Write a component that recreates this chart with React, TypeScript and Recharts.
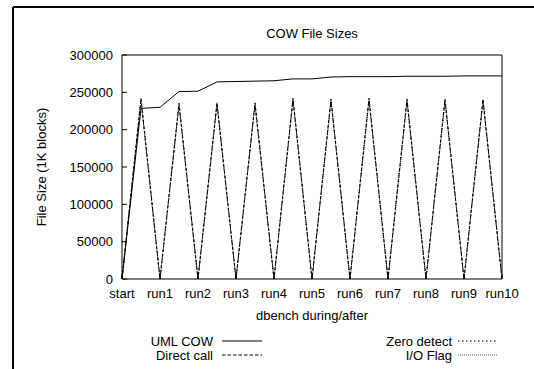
import React from 'react';
import { LineChart, Line, XAxis, YAxis } from 'recharts';

const xTickLabels = ['start', 'run1', 'run2', 'run3', 'run4', 'run5', 'run6', 'run7', 'run8', 'run9', 'run10'];
// measurement points: even = after run (tick), odd = during the run
const steps = [0, 1, 2, 3, 4, 5, 6, 7, 8, 9, 10, 11, 12, 13, 14, 15, 16, 17, 18, 19, 20];
const umlCow = [0, 228500, 230000, 251000, 251500, 264000, 264500, 265000, 265500, 268000, 268000, 270500, 271000, 271000, 271000, 271500, 271500, 271500, 272000, 272000, 272000];
const directCall = [0, 242000, 0, 235500, 0, 236500, 0, 236000, 0, 242000, 0, 241000, 0, 242000, 0, 241000, 0, 241000, 0, 241000, 0];
const zeroDetect = [0, 240000, 0, 233500, 0, 234500, 0, 234000, 0, 240000, 0, 239000, 0, 240000, 0, 239000, 0, 239000, 0, 239000, 0];
const ioFlag = [0, 238000, 0, 232000, 0, 233000, 0, 232500, 0, 238500, 0, 237500, 0, 238500, 0, 237500, 0, 237500, 0, 237500, 0];
const yTicks = [0, 50000, 100000, 150000, 200000, 250000, 300000];

const seriesNames = ['UML COW', 'Direct call', 'Zero detect', 'I/O Flag'];

const data = steps.map((s, i) => ({
  step: s,
  uml: umlCow[i],
  direct: directCall[i],
  zero: zeroDetect[i],
  io: ioFlag[i],
}));

const xTicks = xTickLabels.map((_, i) => i * 2);

const FONT = '"Liberation Sans", Arial, Helvetica, sans-serif';

const series = [
  { key: 'io', name: seriesNames[3], dash: '1 1', color: '#555' },
  { key: 'zero', name: seriesNames[2], dash: '1.5 2.5', color: '#000' },
  { key: 'direct', name: seriesNames[1], dash: '3.5 2', color: '#000' },
  { key: 'uml', name: seriesNames[0], dash: undefined as string | undefined, color: '#000' },
];

const legendItems = [
  { name: seriesNames[0], dash: undefined as string | undefined, color: '#000', textX: 213, lineX: 222, y: 341 },
  { name: seriesNames[1], dash: '3.5 2', color: '#000', textX: 213, lineX: 222, y: 355 },
  { name: seriesNames[2], dash: '1.5 2.5', color: '#000', textX: 452, lineX: 458, y: 341 },
  { name: seriesNames[3], dash: '1 1', color: '#555', textX: 452, lineX: 458, y: 355 },
];

export default function App() {
  return (
    <div style={{ position: 'absolute', left: 0, top: 0, width: 534, height: 369, background: '#fff', fontFamily: FONT }}>
      <LineChart width={534} height={369} data={data} margin={{ top: 55, right: 32, bottom: 0, left: 0 }}>
        <XAxis
          xAxisId="bottom"
          dataKey="step"
          type="number"
          domain={[0, 20]}
          ticks={xTicks}
          interval={0}
          tickFormatter={(v: number) => xTickLabels[Math.round(v / 2)]}
          height={90}
          tickSize={-5}
          tickMargin={15}
          axisLine={{ stroke: '#000', strokeWidth: 1 }}
          tickLine={{ stroke: '#000' }}
          tick={{ fill: '#000', fontSize: 13, fontFamily: FONT }}
        />
        <XAxis
          xAxisId="top"
          dataKey="step"
          type="number"
          orientation="top"
          mirror
          domain={[0, 20]}
          ticks={xTicks}
          interval={0}
          tickSize={5}
          axisLine={{ stroke: '#000', strokeWidth: 1 }}
          tickLine={{ stroke: '#000' }}
          tick={false}
        />
        <YAxis
          yAxisId="left"
          type="number"
          domain={[0, 300000]}
          ticks={yTicks}
          interval={0}
          width={122}
          tickSize={-5}
          tickMargin={14}
          axisLine={{ stroke: '#000', strokeWidth: 1 }}
          tickLine={{ stroke: '#000' }}
          tick={{ fill: '#000', fontSize: 13, fontFamily: FONT }}
        />
        <YAxis
          yAxisId="right"
          type="number"
          orientation="right"
          mirror
          domain={[0, 300000]}
          ticks={yTicks}
          interval={0}
          tickSize={5}
          axisLine={{ stroke: '#000', strokeWidth: 1 }}
          tickLine={{ stroke: '#000' }}
          tick={false}
        />
        {series.map((s) => (
          <Line
            key={s.key}
            xAxisId="bottom"
            yAxisId="left"
            type="linear"
            dataKey={s.key}
            name={s.name}
            stroke={s.color}
            strokeWidth={1}
            strokeDasharray={s.dash}
            dot={false}
            activeDot={false}
            isAnimationActive={false}
          />
        ))}
      </LineChart>
      <svg width={534} height={369} style={{ position: 'absolute', left: 0, top: 0, pointerEvents: 'none' }}>
        <line x1={13} y1={7} x2={534} y2={7} stroke="#000" strokeWidth={2} />
        <line x1={13} y1={7} x2={13} y2={369} stroke="#000" strokeWidth={2} />
        <text x={312} y={38} textAnchor="middle" fontSize={13} fontFamily={FONT} fill="#000">COW File Sizes</text>
        <text transform="translate(46,167) rotate(-90)" textAnchor="middle" fontSize={13} fontFamily={FONT} fill="#000">File Size (1K blocks)</text>
        <text x={312} y={320} textAnchor="middle" fontSize={13} fontFamily={FONT} fill="#000">dbench during/after</text>
        {legendItems.map((it) => (
          <g key={it.name}>
            <text x={it.textX} y={it.y + 4.6} textAnchor="end" fontSize={13} fontFamily={FONT} fill="#000">{it.name}</text>
            <line x1={it.lineX} y1={it.y} x2={it.lineX + 40} y2={it.y} stroke={it.color} strokeWidth={1} strokeDasharray={it.dash} />
          </g>
        ))}
      </svg>
    </div>
  );
}
